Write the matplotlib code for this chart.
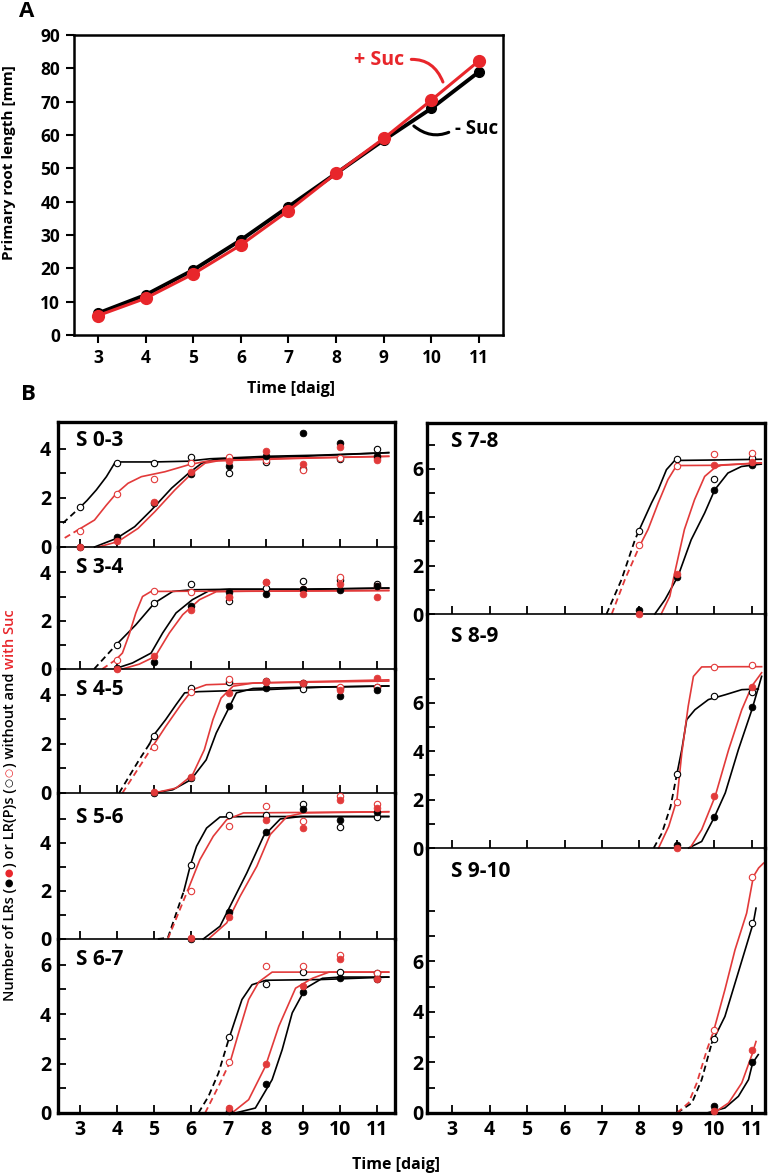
import matplotlib
matplotlib.use('Agg')
import matplotlib.pyplot as plt
from matplotlib.transforms import IdentityTransform

plt.rcParams['font.family'] = ['Open Sans', 'DejaVu Sans']
plt.rcParams['font.weight'] = 'bold'

W, H = 771, 1174
RED = '#e8262b'
REDB = '#e23a3a'

# ---------------- Panel A data ----------------
days_a = [3, 4, 5, 6, 7, 8, 9, 10, 11]
root_no_suc = [6.5, 12.0, 19.5, 28.5, 38.5, 48.5, 58.5, 68.0, 79.0]
root_suc = [5.8, 11.0, 18.3, 27.0, 37.3, 48.5, 59.0, 70.5, 82.3]

# ---------------- Panel B data ----------------
days_b = [3, 4, 5, 6, 7, 8, 9, 10, 11]
N = None
# S 0-3
s03_bo = [1.65, 3.42, 3.42, 3.69, 3.0, 3.45, 3.17, 3.59, 4.0]
s03_ro = [0.67, 2.16, 2.78, 3.42, 3.67, 3.55, 3.14, 3.62, 3.65]
s03_bf = [0.0, 0.42, 1.8, 2.97, 3.3, 3.7, 4.64, 4.26, 3.7]
s03_rf = [0.0, 0.25, 1.85, 3.08, 3.5, 3.9, 3.38, 4.1, 3.55]
# S 3-4
s34_bo = [N, 0.98, 2.73, 3.53, 2.8, 3.35, 3.66, 3.7, 3.52]
s34_ro = [N, 0.38, 3.24, 3.2, 3.0, 3.6, 3.3, 3.8, 3.45]
s34_bf = [N, 0.05, 0.31, 2.62, 3.17, 3.1, 3.3, 3.25, 3.45]
s34_rf = [N, 0.0, 0.52, 2.45, 3.0, 3.6, 3.1, 3.5, 3.0]
# S 4-5
s45_bo = [N, N, 2.33, 4.27, 4.5, 4.57, 4.23, 4.27, 4.3]
s45_ro = [N, N, 1.87, 4.1, 4.64, 4.55, 4.48, 4.3, 4.3]
s45_bf = [N, N, 0.0, 0.61, 3.55, 4.27, 4.48, 3.96, 4.2]
s45_rf = [N, N, 0.03, 0.65, 4.07, 4.52, 4.47, 4.17, 4.68]
# S 5-6
s56_bo = [N, N, N, 3.1, 5.18, 5.18, 5.64, 4.65, 5.08]
s56_ro = [N, N, N, 1.98, 4.69, 5.55, 4.9, 5.94, 5.64]
s56_bf = [N, N, N, 0.0, 1.12, 4.44, 5.42, 4.94, 5.3]
s56_rf = [N, N, N, 0.05, 0.92, 4.97, 4.62, 5.78, 5.45]
# S 6-7
s67_bo = [N, N, N, N, 3.08, 5.22, 5.71, 5.71, 5.67]
s67_ro = [N, N, N, N, 2.05, 5.96, 5.93, 6.41, 5.67]
s67_bf = [N, N, N, N, 0.1, 1.19, 4.88, 5.47, 5.43]
s67_rf = [N, N, N, N, 0.2, 1.98, 5.13, 6.23, 5.43]
# S 7-8
s78_bo = [N, N, N, N, N, 3.42, 6.43, 5.6, 6.45]
s78_ro = [N, N, N, N, N, 2.84, 6.14, 6.63, 6.65]
s78_bf = [N, N, N, N, N, 0.18, 1.53, 5.14, 6.15]
s78_rf = [N, N, N, N, N, 0.0, 1.67, 6.15, 6.28]
# S 8-9
s89_bo = [N, N, N, N, N, N, 3.07, 6.27, 6.47]
s89_ro = [N, N, N, N, N, N, 1.89, 7.49, 7.56]
s89_bf = [N, N, N, N, N, N, 0.14, 1.28, 5.83]
s89_rf = [N, N, N, N, N, N, 0.0, 2.14, 6.66]
# S 9-10
s910_bo = [N, N, N, N, N, N, N, 2.94, 7.54]
s910_ro = [N, N, N, N, N, N, N, 3.3, 9.36]
s910_bf = [N, N, N, N, N, N, N, 0.26, 2.0]
s910_rf = [N, N, N, N, N, N, N, 0.07, 2.48]

# fitted curves: (day, value)
c03_bo_d = [(2.55, 0.97), (3.0, 1.6)]
c03_bo = [(3.0, 1.6), (3.2, 1.9), (3.45, 2.33), (3.72, 2.87), (3.94, 3.42), (4.1, 3.47), (5.0, 3.47), (5.9, 3.5), (6.5, 3.6), (8, 3.7), (9.5, 3.75), (11.3, 3.85)]
c03_ro_d = [(2.6, 0.37), (2.95, 0.69)]
c03_ro = [(2.95, 0.69), (3.4, 1.1), (3.72, 1.71), (3.99, 2.19), (4.3, 2.6), (4.66, 2.87), (5.29, 3.07), (5.92, 3.35), (6.4, 3.5), (8, 3.6), (9.5, 3.65), (11.3, 3.7)]
c03_bf = [(3.4, 0), (3.99, 0.35), (4.48, 0.83), (4.93, 1.51), (5.47, 2.4), (5.92, 3.0), (6.28, 3.42), (6.64, 3.58), (7.5, 3.62), (9, 3.7), (11.3, 3.85)]
c03_rf = [(3.5, 0), (4.03, 0.22), (4.57, 0.76), (5.02, 1.44), (5.56, 2.33), (6.01, 3.0), (6.37, 3.42), (6.73, 3.52), (7.5, 3.55), (9, 3.62), (11.3, 3.7)]

c34_bo_d = [(3.39, 0), (3.97, 0.98)]
c34_bo = [(3.97, 0.98), (4.51, 1.83), (5.01, 2.73), (5.5, 3.21), (6.03, 3.28), (7, 3.3), (9, 3.3), (11.3, 3.35)]
c34_ro_d = [(3.61, 0), (3.97, 0.38)]
c34_ro = [(3.97, 0.38), (4.15, 0.66), (4.33, 1.42), (4.51, 2.32), (4.69, 3.0), (4.92, 3.21), (6, 3.22), (8, 3.22), (11.3, 3.25)]
c34_bf = [(4.03, 0.05), (4.42, 0.25), (4.92, 0.66), (5.23, 1.49), (5.59, 2.32), (6.03, 2.87), (6.49, 3.25), (7, 3.3), (9, 3.3), (11.3, 3.35)]
c34_rf = [(4.15, 0), (4.6, 0.2), (5.03, 0.52), (5.41, 1.49), (5.77, 2.25), (6.22, 2.87), (6.67, 3.2), (7.5, 3.22), (11.3, 3.25)]

c45_bo_d = [(4.06, 0), (4.6, 1.35), (4.88, 2.0)]
c45_bo = [(4.88, 2.0), (4.98, 2.33), (5.31, 2.98), (5.59, 3.59), (5.82, 4.07), (6.2, 4.12), (8, 4.2), (9.5, 4.3), (11.3, 4.35)]
c45_ro_d = [(4.15, 0), (4.92, 1.8)]
c45_ro = [(4.92, 1.8), (5.31, 2.7), (5.72, 3.59), (6.03, 4.2), (6.4, 4.4), (8, 4.48), (11.3, 4.55)]
c45_bf = [(4.98, 0), (5.5, 0.13), (5.99, 0.54), (6.4, 1.35), (6.67, 2.44), (6.94, 3.25), (7.21, 4.07), (7.66, 4.25), (9, 4.3), (11.3, 4.35)]
c45_rf = [(5.0, 0), (5.59, 0.2), (6.03, 0.73), (6.35, 1.76), (6.58, 2.98), (6.8, 3.86), (7.12, 4.34), (7.66, 4.47), (9, 4.52), (11.3, 4.6)]

c56_bo_d = [(5.1, 0), (5.37, 0.05), (5.8, 2.0)]
c56_bo = [(5.8, 2.0), (5.98, 3.1), (6.14, 3.86), (6.41, 4.62), (6.77, 5.08), (7.5, 5.1), (11.3, 5.1)]
c56_ro_d = [(5.37, 0), (5.91, 2.05)]
c56_ro = [(5.91, 2.05), (6.23, 3.3), (6.59, 4.28), (6.95, 4.97), (7.4, 5.25), (9, 5.27), (11.3, 5.3)]
c56_bf = [(6.32, 0), (6.77, 0.53), (7.13, 1.64), (7.49, 2.75), (7.94, 4.28), (8.39, 5.0), (8.94, 5.1), (11.3, 5.1)]
c56_rf = [(6.46, 0), (6.95, 0.67), (7.31, 1.78), (7.76, 3.03), (8.12, 4.35), (8.57, 5.1), (9.02, 5.25), (11.3, 5.3)]

c67_bo_d = [(6.19, 0), (6.46, 0.67), (6.73, 1.62), (7.0, 2.96)]
c67_bo = [(7.0, 2.96), (7.18, 3.78), (7.36, 4.59), (7.63, 5.19), (8.0, 5.37), (9.5, 5.4), (11.3, 5.5)]
c67_ro_d = [(6.37, 0), (6.73, 1.08), (7.05, 2.1)]
c67_ro = [(7.05, 2.1), (7.27, 3.24), (7.54, 4.59), (7.81, 5.3), (8.17, 5.7), (9.5, 5.7), (11.3, 5.7)]
c67_bf = [(7.18, 0), (7.72, 0.2), (8.17, 1.35), (8.44, 2.56), (8.71, 4.05), (9.07, 5.05), (9.52, 5.45), (10, 5.5), (11.3, 5.5)]
c67_rf = [(7.09, 0), (7.54, 0.54), (7.99, 1.89), (8.35, 3.51), (8.8, 5.05), (9.25, 5.45), (9.7, 5.7), (11.3, 5.7)]

c78_bo_d = [(7.12, 0), (7.52, 1.42), (7.88, 3.07), (8.0, 3.5)]
c78_bo = [(8.0, 3.5), (8.32, 4.59), (8.5, 5.14), (8.72, 5.97), (8.94, 6.35), (10, 6.37), (11.25, 6.4)]
c78_ro_d = [(7.26, 0), (7.61, 1.42), (8.0, 2.8)]
c78_ro = [(8.0, 2.8), (8.23, 3.5), (8.5, 4.59), (8.76, 5.56), (8.99, 6.14), (10, 6.15), (11.25, 6.25)]
c78_bf = [(8.41, 0), (8.68, 0.59), (9.03, 1.57), (9.38, 3.07), (9.74, 4.18), (10.01, 5.14), (10.36, 5.83), (10.72, 6.1), (11.08, 6.17), (11.25, 6.2)]
c78_rf = [(8.58, 0), (8.81, 0.73), (8.94, 1.7), (9.2, 3.5), (9.47, 4.73), (9.74, 5.69), (10.01, 6.05), (10.18, 6.15), (11.25, 6.25)]

c89_bo_d = [(8.38, 0), (8.6, 0.62), (8.83, 1.72), (9.0, 3.07)]
c89_bo = [(9.0, 3.07), (9.13, 4.07), (9.26, 5.31), (9.48, 5.72), (9.84, 6.14), (10.29, 6.34), (10.73, 6.55), (11.17, 6.58)]
c89_ro_d = []
c89_ro = [(8.51, 0), (8.78, 0.89), (9.0, 2.0), (9.13, 3.93), (9.3, 5.86), (9.44, 7.1), (9.66, 7.49), (10.5, 7.5), (11.26, 7.5)]
c89_bf = [(9.31, 0), (9.66, 0.27), (10.0, 1.28), (10.29, 2.28), (10.64, 4.07), (11.0, 5.72), (11.26, 7.1)]
c89_rf = [(9.35, 0), (9.66, 0.76), (10.02, 2.14), (10.38, 4.07), (10.73, 5.72), (11.0, 6.7), (11.26, 7.25)]

c910_bo_d = [(9.0, 0), (9.4, 0.4), (9.66, 1.32), (9.93, 2.77)]
c910_bo = [(9.93, 2.77), (10.28, 3.82), (10.55, 5.14), (10.82, 6.46), (11.04, 7.54), (11.11, 8.11)]
c910_ro_d = [(9.0, 0), (9.31, 0.4), (9.53, 1.19), (9.8, 2.5), (9.98, 3.25)]
c910_ro = [(9.98, 3.25), (10.28, 4.88), (10.55, 6.46), (10.86, 7.91), (11.04, 9.36), (11.18, 9.7), (11.31, 9.89)]
c910_bf = [(9.8, 0), (10.28, 0.2), (10.64, 0.66), (10.91, 1.32), (11.02, 1.98), (11.17, 2.31)]
c910_rf = [(9.98, 0), (10.38, 0.4), (10.73, 1.19), (11.0, 2.3), (11.11, 2.83)]

panel_labels = ['S 0-3', 'S 3-4', 'S 4-5', 'S 5-6', 'S 6-7', 'S 7-8', 'S 8-9', 'S 9-10']
x_ticks_b = [3, 4, 5, 6, 7, 8, 9, 10, 11]

# ---------------- figure ----------------
fig = plt.figure(figsize=(W / 100, H / 100), dpi=100)


def px_axes(l, t, r, b):
    return fig.add_axes([l / W, 1 - b / H, (r - l) / W, (b - t) / H])


# Panel A
axA = px_axes(74, 35, 503, 335)
axA.plot(days_a, root_no_suc, color='black', lw=2.8, marker='o', ms=7, zorder=3)
axA.plot(days_a, root_suc, color=RED, lw=2.2, marker='o', ms=8.5, zorder=4)
axA.set_xlim(2.5, 11.5)
axA.set_ylim(0, 90)
axA.set_xticks(days_a)
axA.set_yticks(range(0, 91, 10))
axA.tick_params(direction='out', length=6, width=1.5, labelsize=12.5, pad=4)
for s in axA.spines.values():
    s.set_linewidth(1.8)
axA.annotate('+ Suc', xy=(10.24, 75.9), xytext=(8.38, 82.5), color=RED, fontsize=14,
             fontweight='bold', ha='left', va='center',
             arrowprops=dict(arrowstyle='-', color=RED, lw=2.2, relpos=(1, 0.5),
                             connectionstyle='arc3,rad=-0.4', shrinkA=3, shrinkB=0))
axA.annotate('- Suc', xy=(9.63, 62.7), xytext=(10.5, 61.8), color='black', fontsize=13.5,
             fontweight='bold', ha='left', va='center',
             arrowprops=dict(arrowstyle='-', color='black', lw=2.2, relpos=(0, 0.5),
                             connectionstyle='arc3,rad=-0.35', shrinkA=3, shrinkB=0))
fig.text(291 / W, 1 - 389 / H, 'Time [daig]', ha='center', va='center', fontsize=11.5)
fig.text(9 / W, 1 - 163 / H, 'Primary root length [mm]', rotation=90, ha='center',
         va='center', fontsize=11)
fig.text(19 / W, 1 - 1 / H, 'A', ha='left', va='top', fontsize=16)
fig.text(21 / W, 1 - 384 / H, 'B', ha='left', va='top', fontsize=16)

# Panel B layout (pixel boxes)
left_x = (58, 395)
right_x = (427, 765)
panels = [
    # index, column, top, bottom, ylim top, labelled ticks, unlabelled ticks, points, curves
    (0, left_x, 422, 547, 5.1, [0, 2, 4], [1, 3], (s03_bo, s03_ro, s03_bf, s03_rf),
     (c03_bo_d, c03_bo, c03_ro_d, c03_ro, c03_bf, c03_rf), True, False, 8),
    (1, left_x, 547, 669, 5.05, [0, 2, 4], [1, 3], (s34_bo, s34_ro, s34_bf, s34_rf),
     (c34_bo_d, c34_bo, c34_ro_d, c34_ro, c34_bf, c34_rf), False, False, 10),
    (2, left_x, 669, 793, 5.04, [0, 2, 4], [1, 3], (s45_bo, s45_ro, s45_bf, s45_rf),
     (c45_bo_d, c45_bo, c45_ro_d, c45_ro, c45_bf, c45_rf), False, False, 10),
    (3, left_x, 793, 939, 6.08, [0, 2, 4], [1, 3, 5], (s56_bo, s56_ro, s56_bf, s56_rf),
     (c56_bo_d, c56_bo, c56_ro_d, c56_ro, c56_bf, c56_rf), False, False, 14),
    (4, left_x, 939, 1113, 7.04, [0, 2, 4, 6], [1, 3, 5], (s67_bo, s67_ro, s67_bf, s67_rf),
     (c67_bo_d, c67_bo, c67_ro_d, c67_ro, c67_bf, c67_rf), False, True, 10),
    (5, right_x, 423, 614, 7.9, [0, 2, 4, 6], [1, 3, 5, 7], (s78_bo, s78_ro, s78_bf, s78_rf),
     (c78_bo_d, c78_bo, c78_ro_d, c78_ro, c78_bf, c78_rf), True, False, 8),
    (6, right_x, 614, 848, 9.68, [0, 2, 4, 6], [1, 3, 5, 7], (s89_bo, s89_ro, s89_bf, s89_rf),
     (c89_bo_d, c89_bo, c89_ro_d, c89_ro, c89_bf, c89_rf), False, False, 12),
    (7, right_x, 848, 1113, 10.49, [0, 2, 4, 6], [1, 3, 5, 7, 8], (s910_bo, s910_ro, s910_bf, s910_rf),
     (c910_bo_d, c910_bo, c910_ro_d, c910_ro, c910_bf, c910_rf), False, True, 13),
]

for (idx, cx, top, bot, ytop, major, minor, pts, crv, is_top, is_bot, ldy) in panels:
    ax = px_axes(cx[0], top, cx[1], bot)
    if cx is left_x:
        ax.set_xlim(2.42, 11.47)
        ypad = 5
    else:
        ax.set_xlim(2.33, 11.35)
        ypad = 2.5
    ax.set_ylim(0, ytop)
    ax.set_facecolor('none')
    # curves
    bo_d, bo, ro_d, ro, bf, rf = crv
    styles = [(bo_d, 'black', True), (bo, 'black', False), (bf, 'black', False),
              (ro_d, REDB, True), (ro, REDB, False), (rf, REDB, False)]
    for seg, col, dashed in styles:
        if not seg:
            continue
        xs = [p[0] for p in seg]
        ys = [p[1] for p in seg]
        if dashed:
            ax.plot(xs, ys, color=col, lw=1.3, dashes=(3.5, 2.2), clip_on=False, zorder=2)
        else:
            ax.plot(xs, ys, color=col, lw=1.2, clip_on=False, zorder=2)
    # points
    bo_p, ro_p, bf_p, rf_p = pts
    for vals, col, filled in [(bo_p, 'black', False), (bf_p, 'black', True),
                              (ro_p, REDB, False), (rf_p, REDB, True)]:
        xs = [d for d, v in zip(days_b, vals) if v is not None]
        ys = [v for v in vals if v is not None]
        if filled:
            ax.plot(xs, ys, ls='none', marker='o', ms=4.8, mfc=col, mec=col, mew=0.6,
                    clip_on=False, zorder=4)
        else:
            ax.plot(xs, ys, ls='none', marker='o', ms=4.6, mfc='white', mec=col, mew=0.8,
                    clip_on=False, zorder=3)
    # ticks
    ax.set_xticks(x_ticks_b)
    ax.set_yticks(major)
    ax.set_yticks(minor, minor=True)
    ax.tick_params(axis='x', direction='in', length=6, width=1.3, labelsize=14,
                   pad=5, labelbottom=is_bot)
    ax.tick_params(axis='y', which='both', direction='in', length=6, width=1.3,
                   labelsize=14, pad=ypad)
    ax.tick_params(axis='y', which='minor', labelleft=False)
    # spines
    ax.spines['left'].set_linewidth(2.4)
    ax.spines['right'].set_linewidth(2.4)
    if is_top:
        ax.spines['top'].set_linewidth(2.4)
    else:
        ax.spines['top'].set_visible(False)
    ax.spines['bottom'].set_linewidth(2.4 if is_bot else 1.2)
    ax.annotate(panel_labels[idx], xy=(0, 1), xycoords='axes fraction',
                xytext=(18 if cx is left_x else 24, -ldy), textcoords='offset pixels',
                ha='left', va='top', fontsize=15)

fig.text(396 / W, 1 - 1165 / H, 'Time [daig]', ha='center', va='center', fontsize=11.5)

# multi-coloured rotated y label for panel B
pieces = [('Number of LRs (', 'black', 10.5), ('\u25cf', 'black', 7.5), ('\u25cf', RED, 7.5),
          (') or LR(P)s (', 'black', 10.5), ('\u25cb', 'black', 7.5), ('\u25cb', RED, 7.5),
          (') without and', 'black', 10.5), ('SPACE', None, 10.5), ('with Suc', RED, 10.5)]
renderer = fig.canvas.get_renderer()


def measure(s, fs):
    t = fig.text(0, 0, s, fontsize=fs, fontweight='semibold')
    w = t.get_window_extent(renderer).width
    t.remove()
    return w


space_w = measure('a a', 10.5) - measure('aa', 10.5)
lengths = [space_w if s == 'SPACE' else measure(s, fs) + (1.5 if fs < 10 else 0)
           for s, c, fs in pieces]
total = sum(lengths)
xc = 10
yc = H - 805
y = yc - total / 2
for (s, c, fs), L in zip(pieces, lengths):
    if s != 'SPACE':
        fig.text(xc, y + (0.75 if fs < 10 else 0), s, color=c, fontsize=fs,
                 fontweight='semibold', rotation=90,
                 rotation_mode='anchor', ha='left', va='center', transform=IdentityTransform())
    y += L

fig.savefig('out.png', dpi=100)
